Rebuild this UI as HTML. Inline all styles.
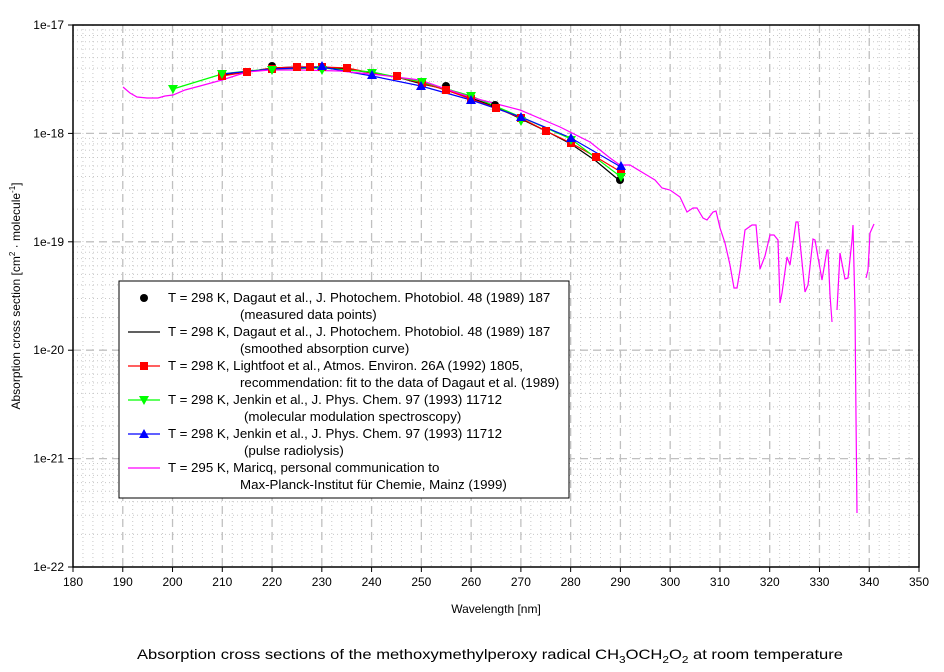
<!DOCTYPE html>
<html><head><meta charset="utf-8"><style>
html,body{margin:0;padding:0;background:#fff;}
svg{display:block;font-family:"Liberation Sans",Arial,sans-serif;}
</style></head><body>
<svg id="s" width="944" height="672" xmlns="http://www.w3.org/2000/svg">
<g id="grid"></g>
<g fill="none" stroke-width="1.2">
<polyline stroke="#000" points="222,75 247,72 272,68 297,67 322,67 347,69 372,73 397,77 422,84 446,89 471,98 496,107 521,119 546,131 571,144 596,161 620,181"/>
<polyline stroke="#ff0000" points="222,76 247,72 272,68 297,67 310,67 322,67 347,68 372,73 397,77 422,83 446,90 471,99 496,108 521,118 546,131 571,143 596,157 621,172"/>
<polyline stroke="#00ff00" points="173,89 222,74 247,71 272,69 322,68 372,72 422,82 471,96 521,117 571,139 621,177"/>
<polyline stroke="#0000ff" points="222,74 272,69 322,67 372,76 421,86 471,100 521,117 571,138 621,167"/>
<polyline stroke="#ff00ff" points="123,87 130,93 137,97 147,98 158,98 165,96 173,95 185,90 200,86 222,80 247,72 270,70 300,70 340,71 380,75 420,80 440,87 470,97 520,110 560,127 590,142 610,158 620,165 630,165 645,174 655,180 662,188 670,190 680,197 687,212 693,208 697,208 703,218 707,220 713,212 716,211 720,228 725,243 730,265 734,288 737,288 740,270 745,230 752,225 756,225 760,269 765,256 770,235 774,235 778,240 780,303 782,293 787,257 790,265 796,222 798,222 805,292 808,285 813,239 815,240 822,280 827,250 828,250 830,295 832,322"/>
<polyline stroke="#ff00ff" points="837,310 840,253 845,279 848,278 852,240 853,225 855,310 856,417 857,513"/>
<polyline stroke="#ff00ff" points="866,278 868,270 870,233 874,224"/>
</g>
<g id="mk"></g>
<rect x="73" y="25" width="846" height="542" fill="none" stroke="#000" stroke-width="1.5"/>
<g id="ticks" font-size="12"></g>
<text x="496" y="613" font-size="12" text-anchor="middle">Wavelength [nm]</text>
<text transform="translate(20,296) rotate(-90)" font-size="12" text-anchor="middle">Absorption cross section [cm<tspan dy="-5" font-size="8">2</tspan><tspan dy="5"> · molecule</tspan><tspan dy="-5" font-size="8">-1</tspan><tspan dy="5">]</tspan></text>
<text x="490" y="659" font-size="14" text-anchor="middle" textLength="706" lengthAdjust="spacingAndGlyphs">Absorption cross sections of the methoxymethylperoxy radical CH<tspan dy="4" font-size="10">3</tspan><tspan dy="-4">OCH</tspan><tspan dy="4" font-size="10">2</tspan><tspan dy="-4">O</tspan><tspan dy="4" font-size="10">2</tspan><tspan dy="-4"> at room temperature</tspan></text>
<g id="leg" font-size="13.3"></g>
</svg>
<script>
(function(){
var NS="http://www.w3.org/2000/svg";
function el(p,t,a,txt){var e=document.createElementNS(NS,t);for(var k in a)e.setAttribute(k,a[k]);if(txt!=null)e.textContent=txt;p.appendChild(e);return e;}
var g=document.getElementById('grid'),tk=document.getElementById('ticks');
var X=function(n){return 73+(n-180)*846/170;};
var T0=25,B0=567,dec=(B0-T0)/5;
for(var n=182;n<350;n+=2){if(n%10==0)continue;var x=X(n);el(g,'line',{x1:x,x2:x,y1:T0,y2:B0,stroke:'#c8c8c8','stroke-dasharray':'1,3'});}
for(var d=0;d<5;d++)for(var m=2;m<10;m++){var y=B0-d*dec-Math.log10(m)*dec;el(g,'line',{x1:73,x2:919,y1:y,y2:y,stroke:'#c8c8c8','stroke-dasharray':'1,3'});}
for(var n=190;n<350;n+=10){var x=X(n);el(g,'line',{x1:x,x2:x,y1:T0,y2:B0,stroke:'#c0c0c0','stroke-dasharray':'8,5','stroke-width':1.3});}
for(var d=1;d<5;d++){var y=T0+d*dec;el(g,'line',{x1:73,x2:919,y1:y,y2:y,stroke:'#c0c0c0','stroke-dasharray':'8,5','stroke-width':1.3});}
for(var n=180;n<=350;n+=10){var x=X(n);el(tk,'line',{x1:x,x2:x,y1:B0,y2:B0+5,stroke:'#000'});el(tk,'text',{x:x,y:B0+19,'text-anchor':'middle'},n);}
var labs=['1e-17','1e-18','1e-19','1e-20','1e-21','1e-22'];
for(var d=0;d<6;d++){var y=T0+d*dec;el(tk,'line',{x1:68,x2:73,y1:y,y2:y,stroke:'#000'});el(tk,'text',{x:64,y:y+4,'text-anchor':'end'},labs[d]);}
var mk=document.getElementById('mk');
function sq(x,y,c){el(mk,'rect',{x:x-4,y:y-4,width:8,height:8,fill:c});}
function td(x,y,c){el(mk,'polygon',{points:(x-5)+','+(y-4)+' '+(x+5)+','+(y-4)+' '+x+','+(y+5),fill:c});}
function tu(x,y,c){el(mk,'polygon',{points:(x-5)+','+(y+4)+' '+(x+5)+','+(y+4)+' '+x+','+(y-5),fill:c});}
function dot(x,y){el(mk,'circle',{cx:x,cy:y,r:4,fill:'#000'});}
dot(272,66);dot(446,86);dot(495,105);dot(620,180);
[[222,76],[247,72],[272,69],[297,67],[310,67],[322,67],[347,68],[397,76],[422,83],[446,90],[471,99],[496,108],[521,118],[546,131],[571,143],[596,157],[621,172]].forEach(function(p){sq(p[0],p[1],'#ff0000');});
[[173,89],[222,74],[272,70],[322,70],[372,73],[422,82],[471,96],[521,121],[571,140],[621,177]].forEach(function(p){td(p[0],p[1],'#00ff00');});
[[322,66],[372,75],[421,86],[471,100],[521,117],[571,138],[621,166]].forEach(function(p){tu(p[0],p[1],'#0000ff');});
var L=document.getElementById('leg');
el(L,'rect',{x:119,y:281,width:450,height:217,fill:'#fff',stroke:'#000','stroke-width':1});
var rows=[['k','T = 298 K, Dagaut et al., J. Photochem. Photobiol. 48 (1989) 187','(measured data points)',240],
['l','T = 298 K, Dagaut et al., J. Photochem. Photobiol. 48 (1989) 187','(smoothed absorption curve)',240],
['r','T = 298 K, Lightfoot et al., Atmos. Environ. 26A (1992) 1805,','recommendation: fit to the data of Dagaut et al. (1989)',240],
['g','T = 298 K, Jenkin et al., J. Phys. Chem. 97 (1993) 11712','(molecular modulation spectroscopy)',244],
['b','T = 298 K, Jenkin et al., J. Phys. Chem. 97 (1993) 11712','(pulse radiolysis)',244],
['m','T = 295 K, Maricq, personal communication to','Max-Planck-Institut für Chemie, Mainz (1999)',240]];
rows.forEach(function(r,i){var y=298+i*34;var c={k:'#000',l:'#000',r:'#ff0000',g:'#00ff00',b:'#0000ff',m:'#ff00ff'}[r[0]];
if(r[0]!='k')el(L,'line',{x1:128,x2:160,y1:y,y2:y,stroke:c,'stroke-width':1.2});
var sav=mk;mk=L;
if(r[0]=='k')dot(144,298);if(r[0]=='r')sq(144,y,c);if(r[0]=='g')td(144,y,c);if(r[0]=='b')tu(144,y,c);
mk=sav;
el(L,'text',{x:168,y:y+4},r[1]);el(L,'text',{x:r[3],y:y+21},r[2]);});
})();
</script>
</body></html>
